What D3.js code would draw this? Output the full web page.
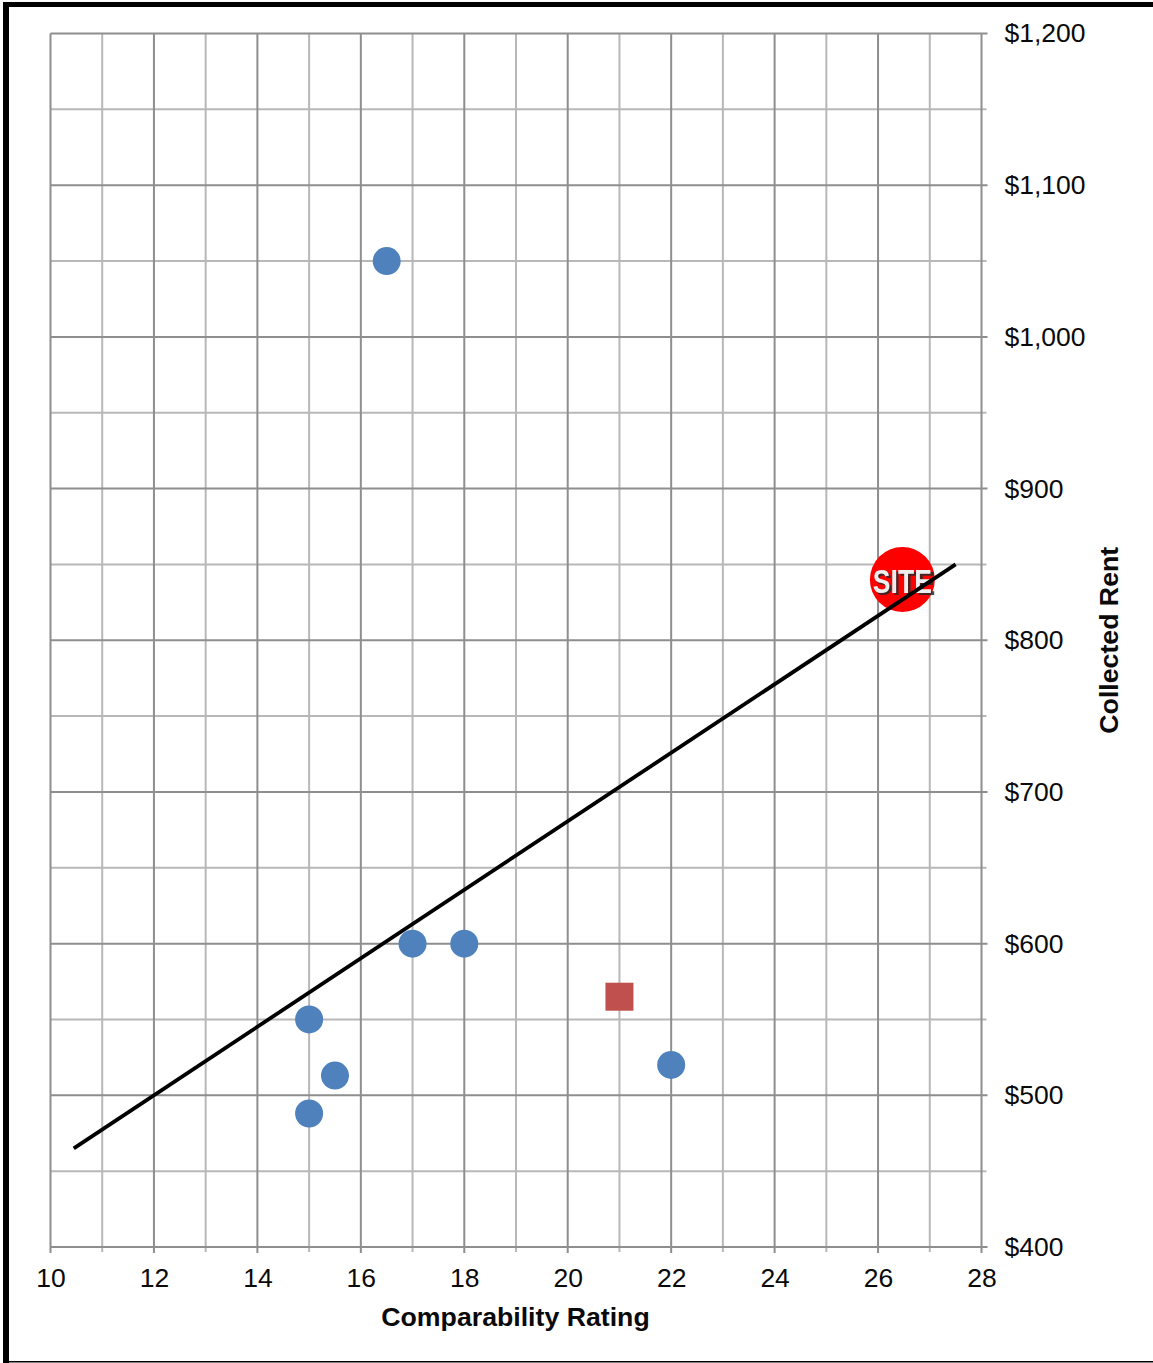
<!DOCTYPE html>
<html>
<head>
<meta charset="utf-8">
<script src="https://cdn.jsdelivr.net/npm/d3@7"></script>
<style>
  html, body { margin: 0; padding: 0; background: #fff; }
  svg { display: block; font-family: "Liberation Sans", Arial, sans-serif; }
</style>
</head>
<body>
<div id="chart"></div>
<script>
// rating / rent pairs for the comparables
const compRatings = [16.5, 17, 18, 15, 15.5, 15, 22];
const compRents = [1050, 600, 600, 550, 513, 488, 520];

const avgRating = [21];
const avgRent = [565];

const siteRating = [26.47];
const siteRent = [840];

const trendRatings = [10.45, 27.5];
const trendRents = [465, 850];

const xTicks = [10, 12, 14, 16, 18, 20, 22, 24, 26, 28];
const xMinorTicks = [11, 13, 15, 17, 19, 21, 23, 25, 27];
const yTicks = [400, 500, 600, 700, 800, 900, 1000, 1100, 1200];
const yMinorTicks = [450, 550, 650, 750, 850, 950, 1050, 1150];

const margin = {top: 33.5, right: 171.5, bottom: 116, left: 50.5},
    width = 1153 - margin.left - margin.right,
    height = 1363 - margin.top - margin.bottom;

const root = d3.select("#chart")
    .append("svg")
    .attr("width", 1153)
    .attr("height", 1363);

// soft edge for the site badge, it is a small bitmap-like stamp
root.append("defs").append("filter")
    .attr("id", "soften")
    .append("feGaussianBlur")
    .attr("stdDeviation", 0.7);

// page border: heavy on the top and left, hairline along the bottom
root.append("rect").attr("x", 3).attr("y", 2).attr("width", 6).attr("height", 1361).attr("fill", "#000");
root.append("rect").attr("x", 3).attr("y", 2).attr("width", 1150).attr("height", 5).attr("fill", "#000");
root.append("rect").attr("x", 3).attr("y", 1361).attr("width", 1150).attr("height", 1.5).attr("fill", "#000");

const svg = root.append("g")
    .attr("transform", `translate(${margin.left},${margin.top})`);

const x = d3.scaleLinear().domain([10, 28]).range([0, width]);
const y = d3.scaleLinear().domain([400, 1200]).range([height, 0]);

const minorColor = "#b8b8b8", majorColor = "#8e8e8e";

// minor grid first so the major lines sit on top
svg.append("g").selectAll("line").data(xMinorTicks).join("line")
    .attr("x1", d => x(d)).attr("x2", d => x(d))
    .attr("y1", 0).attr("y2", height + 5)
    .attr("stroke", minorColor).attr("stroke-width", 2);
svg.append("g").selectAll("line").data(yMinorTicks).join("line")
    .attr("x1", 0).attr("x2", width + 5)
    .attr("y1", d => y(d)).attr("y2", d => y(d))
    .attr("stroke", minorColor).attr("stroke-width", 2);
svg.append("g").selectAll("line").data(xTicks).join("line")
    .attr("x1", d => x(d)).attr("x2", d => x(d))
    .attr("y1", 0).attr("y2", height + 6)
    .attr("stroke", majorColor).attr("stroke-width", 2);
svg.append("g").selectAll("line").data(yTicks).join("line")
    .attr("x1", 0).attr("x2", width + 6)
    .attr("y1", d => y(d)).attr("y2", d => y(d))
    .attr("stroke", majorColor).attr("stroke-width", 2);

// axes only supply the labels, the tick marks come from the grid above
const xAxis = svg.append("g")
    .attr("transform", `translate(0, ${height})`)
    .call(d3.axisBottom(x).tickValues(xTicks).tickSize(0).tickPadding(21));
xAxis.select(".domain").remove();
xAxis.selectAll("text").attr("font-size", 26.5).attr("font-family", "Liberation Sans").attr("fill", "#0a0a0a");

const yAxis = svg.append("g")
    .attr("transform", `translate(${width}, 0)`)
    .call(d3.axisRight(y).tickValues(yTicks).tickSize(0).tickPadding(23).tickFormat(d3.format("$,")));
yAxis.select(".domain").remove();
yAxis.selectAll("text").attr("font-size", 26.5).attr("font-family", "Liberation Sans").attr("fill", "#0a0a0a");

svg.append("text")
    .attr("x", x(19) - 0.5)
    .attr("y", height + 79)
    .attr("text-anchor", "middle")
    .attr("font-size", 26.7)
    .attr("font-weight", "bold")
    .attr("fill", "#0a0a0a")
    .text("Comparability Rating");

svg.append("text")
    .attr("transform", `translate(${width + 136}, ${y(800)}) rotate(-90)`)
    .attr("text-anchor", "middle")
    .attr("font-size", 26.7)
    .attr("font-weight", "bold")
    .attr("fill", "#0a0a0a")
    .text("Collected Rent");

// comparables
svg.append("g").selectAll("circle").data(compRatings).join("circle")
    .attr("cx", d => x(d))
    .attr("cy", (d, i) => y(compRents[i]))
    .attr("r", 14)
    .attr("fill", "#4f81bd");

// average marker
svg.append("g").selectAll("rect").data(avgRating).join("rect")
    .attr("x", d => x(d) - 14)
    .attr("y", (d, i) => y(avgRent[i]) - 14)
    .attr("width", 28)
    .attr("height", 28)
    .attr("fill", "#c0504d");

// subject site badge
const site = svg.append("g").selectAll("g").data(siteRating).join("g")
    .attr("transform", (d, i) => `translate(${x(d)},${y(siteRent[i])})`)
    .attr("filter", "url(#soften)");
site.append("circle").attr("r", 32.5).attr("fill", "#fe0000");
site.append("text")
    .attr("x", 2.5).attr("y", 15.5)
    .attr("text-anchor", "middle")
    .attr("font-size", 34)
    .attr("font-weight", "bold")
    .attr("textLength", 61)
    .attr("lengthAdjust", "spacingAndGlyphs")
    .attr("fill", "#2a2a2a")
    .attr("opacity", 0.85)
    .text("SITE");
site.append("text")
    .attr("x", 0).attr("y", 13)
    .attr("text-anchor", "middle")
    .attr("font-size", 34)
    .attr("font-weight", "bold")
    .attr("textLength", 59)
    .attr("lengthAdjust", "spacingAndGlyphs")
    .attr("fill", "#eeeeee")
    .text("SITE");

// trend line
const line = d3.line()
    .x(d => x(d))
    .y((d, i) => y(trendRents[i]));
svg.append("path")
    .datum(trendRatings)
    .attr("fill", "none")
    .attr("stroke", "#000")
    .attr("stroke-width", 3.8)
    .attr("d", line);
</script>
</body>
</html>
